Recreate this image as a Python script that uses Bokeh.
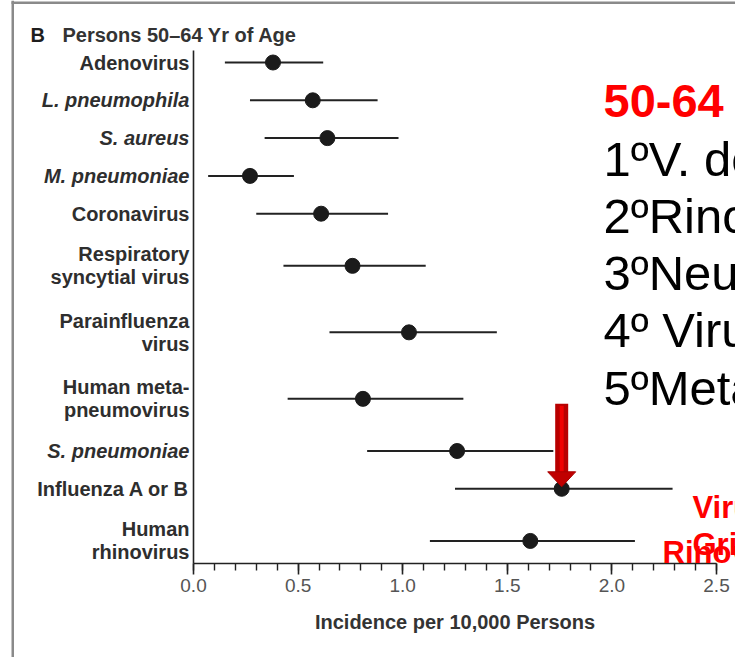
from bokeh.plotting import figure
from bokeh.models import (Range1d, Label, LabelSet, ColumnDataSource,
                          SingleIntervalTicker, PrintfTickFormatter, BoxAnnotation)
from bokeh.embed import file_html
from bokeh.resources import INLINE
from bokeh.core.properties import value, field

# ---------------- data ----------------
pathogens = ["Adenovirus", "L. pneumophila", "S. aureus", "M. pneumoniae", "Coronavirus",
             "Respiratory\nsyncytial virus", "Parainfluenza\nvirus", "Human meta-\npneumovirus",
             "S. pneumoniae", "Influenza A or B", "Human\nrhinovirus"]
italic = [False, True, True, True, False, False, False, False, True, False, False]
incidence = [0.38, 0.57, 0.64, 0.27, 0.61, 0.76, 1.03, 0.81, 1.26, 1.76, 1.61]
ci_low = [0.15, 0.27, 0.34, 0.07, 0.30, 0.43, 0.65, 0.45, 0.83, 1.25, 1.13]
ci_high = [0.62, 0.88, 0.98, 0.48, 0.93, 1.11, 1.45, 1.29, 1.72, 2.29, 2.11]

x_ticks_interval = 0.5
x_axis_max = 2.5
title_letter = "B"
title_text = "Persons 50\u201364 Yr of Age"
x_label = "Incidence per 10,000 Persons"

side_head = "50-64"
side_lines = ["1\u00baV. de la gripe", "2\u00baRinovirus", "3\u00baNeumococo",
              "4\u00ba Virus parainfluenza", "5\u00baMetapneumovirus"]
red_notes = ["Virus", "Gripe"]
red_note2 = "Rinovirus"
highlight = "Influenza A or B"

# ---------------- layout ----------------
W, H = 735, 657
X0_PX, X1_PX = 193, 716            # pixel columns of 0.0 and 2.5
ppu = (X1_PX - X0_PX) / x_axis_max  # pixels per unit
Y_TOP, Y_AXIS = 50, 563            # top of plotting band, x-axis line (pixel rows)

single_h, double_h = 37.8, 66.5
line_gap = 23
row_y = []
cur = Y_TOP - 6.9
for name in pathogens:
    h = double_h if "\n" in name else single_h
    row_y.append(cur + h / 2)
    cur += h

p = figure(width=W, height=H, output_backend="svg", toolbar_location=None,
           x_range=Range1d(-X0_PX / ppu, (W - X0_PX) / ppu),
           y_range=Range1d(H, 0),
           min_border_left=0, min_border_right=0, min_border_top=0, min_border_bottom=0)
p.outline_line_color = None
p.grid.visible = False
p.background_fill_color = "white"
p.border_fill_color = "white"

FONT = "Liberation Sans"
AX = "#222222"

# x axis, fixed at the bottom of the band
xa = p.xaxis[0]
xa.fixed_location = Y_AXIS
xa.bounds = (0, x_axis_max)
xa.ticker = SingleIntervalTicker(interval=x_ticks_interval, num_minor_ticks=5)
xa.formatter = PrintfTickFormatter(format="%.1f")
xa.axis_line_color = AX
xa.axis_line_width = 1.6
xa.major_tick_line_color = AX
xa.major_tick_line_width = 1.6
xa.minor_tick_line_color = AX
xa.minor_tick_line_width = 1.4
xa.major_tick_in = 0
xa.major_tick_out = 11
xa.minor_tick_in = 0
xa.minor_tick_out = 7
xa.major_label_text_font = FONT
xa.major_label_text_font_size = "19px"
xa.major_label_text_color = "#555555"
xa.major_label_standoff = 4
xa.axis_label = x_label
xa.axis_label_text_font = FONT
xa.axis_label_text_font_size = "20px"
xa.axis_label_text_font_style = "bold"
xa.axis_label_text_color = "#333333"
xa.axis_label_standoff = 16

# y axis: only the line, fixed at x = 0
ya = p.yaxis[0]
ya.fixed_location = 0
ya.bounds = (Y_TOP, Y_AXIS)
ya.axis_line_color = AX
ya.axis_line_width = 1.6
ya.major_tick_line_color = None
ya.minor_tick_line_color = None
ya.major_label_text_color = None
ya.major_label_text_font_size = "0px"
ya.ticker = []

# CI lines and points
src = ColumnDataSource(dict(y=row_y, m=incidence, lo=ci_low, hi=ci_high))
p.segment(x0="lo", x1="hi", y0="y", y1="y", source=src, line_width=2, line_color="#222222")
p.scatter(x="m", y="y", source=src, size=15, fill_color="#1b1b1b", line_color="#1b1b1b")

# row labels (each line right-aligned on its own)
lx, ly, lt, ls = [], [], [], []
for name, yy, it in zip(pathogens, row_y, italic):
    parts = name.split("\n")
    n = len(parts)
    for k, part in enumerate(parts):
        lx.append(0)
        ly.append(yy + (k - (n - 1) / 2) * line_gap)
        lt.append(part)
        ls.append("bold italic" if it else "bold")
lab_src = ColumnDataSource(dict(x=lx, y=ly, text=lt, style=ls))
p.add_layout(LabelSet(x="x", y="y", text="text", source=lab_src, x_offset=-4,
                      text_align="right", text_baseline="middle",
                      text_font=value(FONT), text_font_size=value("20px"),
                      text_font_style=field("style"), text_color="#2e2e2e"))

# panel title
p.add_layout(Label(x=0, y=34, x_offset=30 - X0_PX, text=title_letter, text_font=FONT,
                   text_font_size="20px", text_font_style="bold", text_color="#1e1e1e",
                   text_baseline="alphabetic"))
p.add_layout(Label(x=0, y=34, x_offset=62 - X0_PX, text=title_text, text_font=FONT,
                   text_font_size="20px", text_font_style="bold", text_color="#333333",
                   text_baseline="alphabetic"))

# right side overlay text
p.add_layout(Label(x=0, y=100, x_offset=603 - X0_PX, text=side_head, text_font=FONT,
                   text_font_size="47px", text_font_style="bold", text_color="#ff0000",
                   text_baseline="alphabetic"))
for i, t in enumerate(side_lines):
    p.add_layout(Label(x=0, y=158 + 57.3 * i, x_offset=603 - X0_PX, text=t, text_font=FONT,
                       text_font_size="49px", text_color="#000000",
                       text_baseline="alphabetic"))

# red arrow pointing at the highlighted row
hi_idx = pathogens.index(highlight)
ax = incidence[hi_idx]
ay = row_y[hi_idx]
half_head = 14 / ppu
p.segment(x0=[ax], x1=[ax], y0=[ay - 85], y1=[ay - 16], line_width=13, line_color="#b80000")
p.segment(x0=[ax], x1=[ax], y0=[ay - 83], y1=[ay - 16], line_width=4, line_color="#f00000")
p.patch(x=[ax - half_head, ax + half_head, ax], y=[ay - 17, ay - 17, ay - 2],
        fill_color="#c00000", line_color="#a80000", line_width=1)

# red notes near bottom right
for i, t in enumerate(red_notes):
    p.add_layout(Label(x=0, y=507 + 37 * i, x_offset=692 - X0_PX, text=t, text_font=FONT,
                       text_font_size="31px", text_font_style="bold", text_color="#ff0000",
                       text_baseline="alphabetic"))
p.add_layout(Label(x=0, y=552, x_offset=662 - X0_PX, text=red_note2, text_font=FONT,
                   text_font_size="31px", text_font_style="bold", text_color="#ff0000",
                   text_baseline="alphabetic"))

# slide frame lines
p.add_layout(BoxAnnotation(left=(11 - X0_PX) / ppu, right=(13.5 - X0_PX) / ppu,
                           top=0, bottom=H, fill_color="#8a8a8a", fill_alpha=1,
                           line_color=None))
p.add_layout(BoxAnnotation(left=(11 - X0_PX) / ppu, right=(W - X0_PX) / ppu,
                           top=1, bottom=3.5, fill_color="#8a8a8a", fill_alpha=1,
                           line_color=None))

open("out.html", "w").write(file_html(p, INLINE))
